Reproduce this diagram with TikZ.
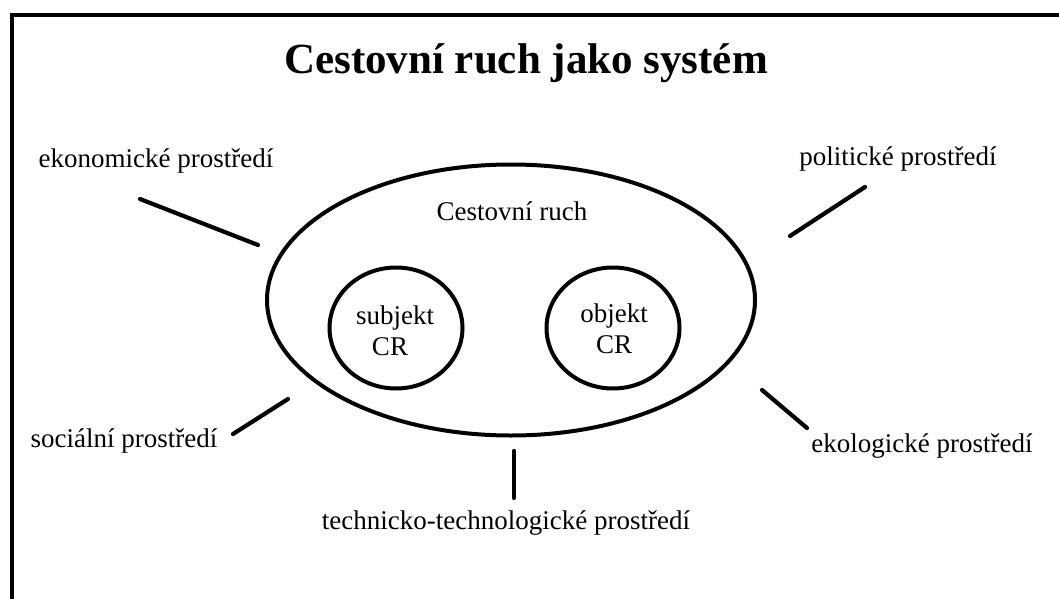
\documentclass[tikz,border=0pt]{standalone}
\usepackage{fontspec}
\setmainfont{Liberation Serif}
\usetikzlibrary{shapes.geometric}
\begin{document}
\begin{tikzpicture}[x=1pt,y=-1pt,
  lbl/.style={font=\fontsize{27}{31}\selectfont, inner sep=0pt, anchor=base},
  ttl/.style={font=\fontsize{43}{48}\selectfont\bfseries, inner sep=0pt, anchor=base},
  ring/.style={draw=black, line width=4pt, ellipse, inner sep=0pt},
  spoke/.style={draw=black, line width=4.2pt, line cap=round},
  frame/.style={draw=black, line width=4pt}]
\useasboundingbox (0,0) rectangle (1059,599);
% frame (top and left edges)
\coordinate (fbl) at (12,601);
\coordinate (ftl) at (12,15);
\coordinate (ftr) at (1061,15);
\draw[frame] (fbl) -- (ftl) -- (ftr);
% title
\node[ttl] (title) at (526,74) {Cestovní ruch jako systém};
% main ellipse
\node[ring, minimum width=488pt, minimum height=271pt] (cr) at (511,300) {};
\node[lbl] (crl) at (512,220) {Cestovní ruch};
% inner circles
\node[ring, minimum width=133pt, minimum height=121pt] (subj) at (396,328) {};
\node[ring, minimum width=133pt, minimum height=121pt] (obj) at (613,328) {};
\node[lbl] (subjt) at (395,324) {subjekt};
\node[lbl] (subjc) at (390,355) {CR};
\node[lbl] (objt) at (614,322) {objekt};
\node[lbl] (objc) at (614,353) {CR};
% environment labels
\node[lbl] (eko) at (156,167) {ekonomické prostředí};
\node[lbl] (pol) at (898,165) {politické prostředí};
\node[lbl] (soc) at (124,447) {sociální prostředí};
\node[lbl] (ekol) at (922,452) {ekologické prostředí};
\node[lbl] (tech) at (506,529) {technicko-technologické prostředí};
% spokes
\coordinate (e1) at (140,199); \coordinate (e2) at (258,245);
\coordinate (p1) at (790,236); \coordinate (p2) at (865,187);
\coordinate (s1) at (233,434); \coordinate (s2) at (288,399);
\coordinate (k1) at (762,390); \coordinate (k2) at (807,428);
\coordinate (t1) at (514,451); \coordinate (t2) at (514,498);
\draw[spoke] (e1) -- (e2);
\draw[spoke] (p1) -- (p2);
\draw[spoke] (s1) -- (s2);
\draw[spoke] (k1) -- (k2);
\draw[spoke] (t1) -- (t2);
\end{tikzpicture}
\end{document}
